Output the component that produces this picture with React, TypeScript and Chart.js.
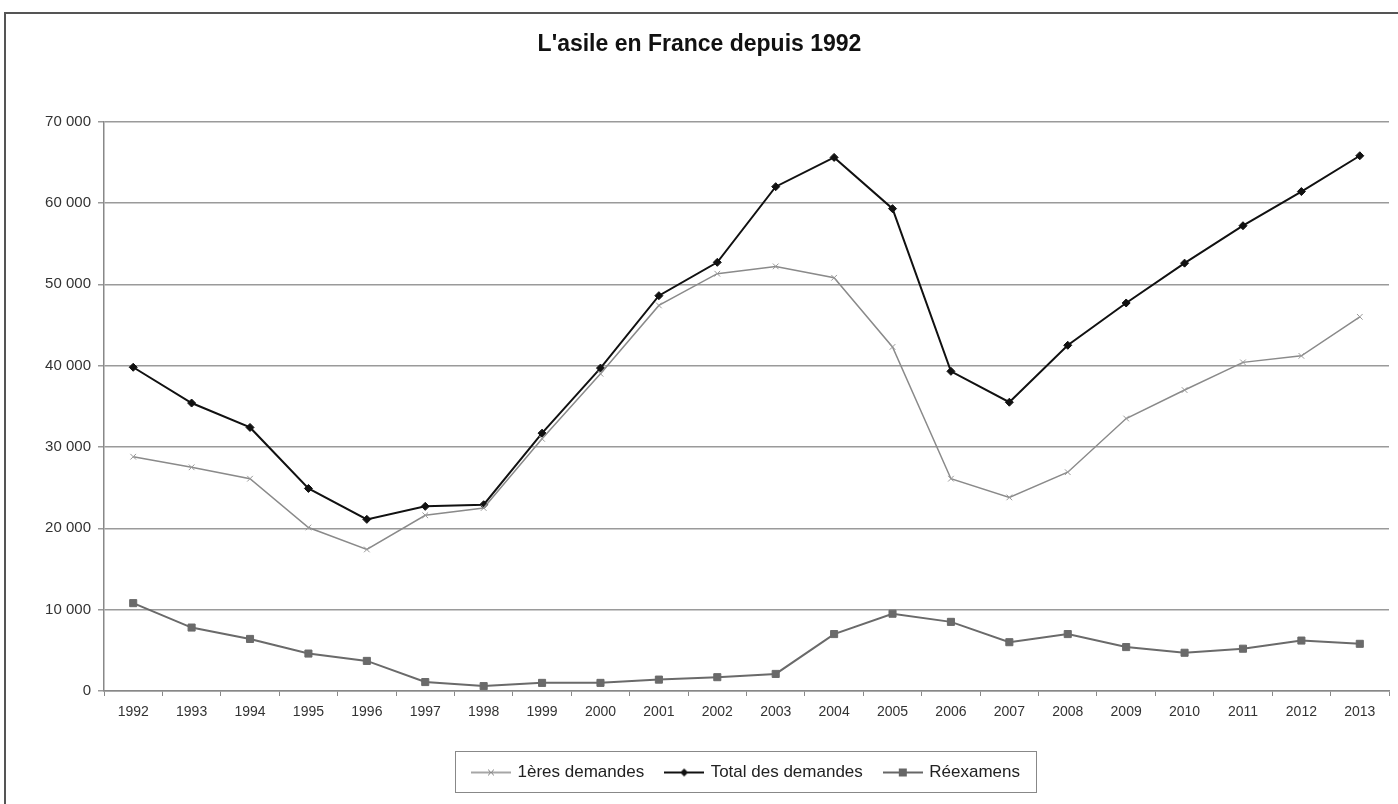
import React, { useEffect, useRef } from "react";
import { Chart, registerables } from "chart.js";

Chart.register(...registerables);

const years = ["1992","1993","1994","1995","1996","1997","1998","1999","2000","2001","2002","2003","2004","2005","2006","2007","2008","2009","2010","2011","2012","2013"];
const premieres = [28800,27500,26100,20100,17400,21600,22500,31000,39000,47400,51300,52200,50800,42300,26100,23800,26900,33500,37000,40400,41200,46000];
const totales = [39800,35400,32400,24900,21100,22700,22900,31700,39700,48600,52700,62000,65600,59300,39300,35500,42500,47700,52600,57200,61400,65800];
const reexamens = [10800,7800,6400,4600,3700,1100,600,1000,1000,1400,1700,2100,7000,9500,8500,6000,7000,5400,4700,5200,6200,5800];
const yTicks = [0,10000,20000,30000,40000,50000,60000,70000];

const FONT = "'Liberation Sans Narrow', 'Arial Narrow', 'Liberation Sans', Arial, sans-serif";

function fmt(v: number): string {
  const s = String(Math.round(v));
  return s.replace(/\B(?=(\d{3})+(?!\d))/g, " ");
}

function makeIcon(kind: string): HTMLCanvasElement {
  const c = document.createElement("canvas");
  c.width = 40; c.height = 12;
  const ctx = c.getContext("2d")!;
  const color = kind === "total" ? "#111" : kind === "prem" ? "#888" : "#666";
  ctx.strokeStyle = color;
  ctx.lineWidth = kind === "prem" ? 1.5 : 2;
  ctx.beginPath(); ctx.moveTo(0, 6); ctx.lineTo(40, 6); ctx.stroke();
  ctx.fillStyle = color;
  if (kind === "total") {
    ctx.beginPath(); ctx.moveTo(20, 2); ctx.lineTo(24, 6); ctx.lineTo(20, 10); ctx.lineTo(16, 6); ctx.closePath(); ctx.fill();
  } else if (kind === "prem") {
    ctx.lineWidth = 1;
    ctx.beginPath(); ctx.moveTo(17, 3); ctx.lineTo(23, 9); ctx.moveTo(23, 3); ctx.lineTo(17, 9); ctx.stroke();
  } else {
    ctx.fillRect(16, 2, 8, 8);
  }
  return c;
}

export default function App() {
  const ref = useRef<HTMLCanvasElement | null>(null);
  useEffect(() => {
    if (!ref.current) return;
    const icons = [makeIcon("prem"), makeIcon("total"), makeIcon("reex")];
    const framePlugin = {
      id: "frame",
      beforeDraw(chart: any) {
        const ctx = chart.ctx;
        ctx.save();
        ctx.fillStyle = "#fff";
        ctx.fillRect(0, 0, chart.width, chart.height);
        ctx.strokeStyle = "#555";
        ctx.lineWidth = 2;
        ctx.strokeRect(5, 13, 1500, 900);
        ctx.restore();
      },
      afterDraw(chart: any) {
        const lg = chart.legend;
        if (!lg) return;
        const ctx = chart.ctx;
        ctx.save();
        ctx.strokeStyle = "#888";
        ctx.lineWidth = 1;
        let minX = Infinity, maxX = -Infinity;
        (lg.legendHitBoxes || []).forEach((b: any) => { minX = Math.min(minX, b.left); maxX = Math.max(maxX, b.left + b.width); });
        const top = Math.round(lg.top + 9) + 0.5;
        const bottom = Math.round(lg.bottom + 1) + 0.5;
        ctx.strokeRect(Math.round(minX) - 17.5, top, Math.round(maxX - minX) + 34, bottom - top);
        ctx.restore();
      },
    };
    const chart = new Chart(ref.current, {
      type: "line",
      data: {
        labels: years,
        datasets: [
          { label: "1ères demandes", data: premieres, borderColor: "#8a8a8a", backgroundColor: "#8a8a8a", borderWidth: 1.5, pointStyle: "crossRot", pointRadius: 4, pointBorderWidth: 1, pointBorderColor: "#999", tension: 0 },
          { label: "Total des demandes", data: totales, borderColor: "#111", backgroundColor: "#111", borderWidth: 2, pointStyle: "rectRot", pointRadius: 4, pointBorderWidth: 1, tension: 0 },
          { label: "Réexamens", data: reexamens, borderColor: "#6a6a6a", backgroundColor: "#6a6a6a", borderWidth: 2, pointStyle: "rect", pointRadius: 5, pointBorderWidth: 1, tension: 0 },
        ],
      },
      options: {
        responsive: false,
        animation: false,
        layout: { padding: { left: 10, right: 9, top: 31, bottom: 13 } },
        plugins: {
          title: {
            display: true,
            text: "L'asile en France depuis 1992",
            color: "#111",
            font: { family: FONT, size: 23, weight: "bold" },
            padding: { top: 0, bottom: 63 },
            align: "center",
          },
          legend: {
            position: "bottom",
            fullSize: false,
            labels: {
              usePointStyle: true,
              pointStyleWidth: 36,
              color: "#222",
              padding: 22,
              font: { family: FONT, size: 17 },
              generateLabels(chart: any) {
                const items = Chart.defaults.plugins.legend.labels.generateLabels(chart);
                return items.map((it: any, i: number) => ({ ...it, pointStyle: icons[i] }));
              },
            },
          },
          tooltip: { enabled: false },
        },
        scales: {
          x: {
            offset: true,
            afterFit(scale: any) { scale.height = 51; },
            grid: { offset: true, drawOnChartArea: false, color: "#888", tickLength: 5 },
            border: { color: "#888", width: 1.5 },
            ticks: { color: "#333", font: { family: FONT, size: 14 }, maxRotation: 0, autoSkip: false, padding: 8 },
          },
          y: {
            min: 0,
            max: 70000,
            afterBuildTicks(scale: any) { scale.ticks = yTicks.map((v) => ({ value: v })); },
            afterFit(scale: any) { scale.width = 94; },
            grid: { color: "#9a9a9a", lineWidth: 1.5, tickLength: 6 },
            border: { color: "#888", width: 1.5 },
            ticks: { color: "#333", font: { family: FONT, size: 15 }, padding: 7, callback: (v: any) => fmt(Number(v)) },
          },
        },
      },
      plugins: [framePlugin],
    } as any);
    return () => chart.destroy();
  }, []);
  return (
    <div style={{ position: "fixed", left: 0, top: 0, width: 1398, height: 804 }}>
      <canvas ref={ref} width={1398} height={804} style={{ width: 1398, height: 804, display: "block" }} />
    </div>
  );
}
